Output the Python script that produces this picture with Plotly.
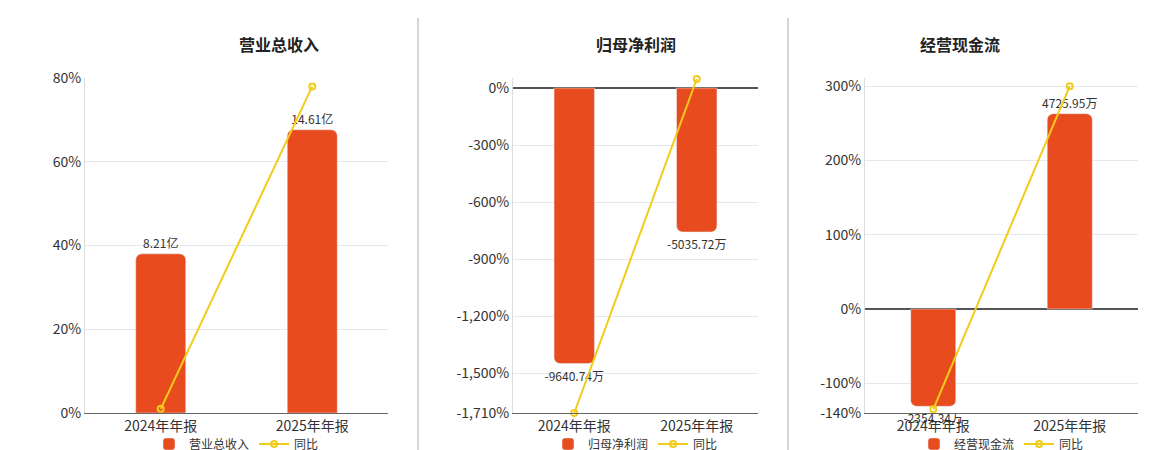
import plotly.graph_objects as go

cats = ["2024年年报", "2025年年报"]
titles = ["营业总收入", "归母净利润", "经营现金流"]
bar_vals = [[8.21, 14.61], [-9640.74, -5035.72], [-2354.34, 4725.95]]
bar_text = [["8.21亿", "14.61亿"], ["-9640.74万", "-5035.72万"], ["-2354.34万", "4725.95万"]]
yoy = [[1.0, 78.0], [-1710.0, 47.8], [-135.0, 300.0]]
pct_ranges = [[0, 80], [-1710, 53], [-140, 311]]
bar_factor = [0.216, 6.65, 17.97]
tickvals = [[0, 20, 40, 60, 80], [0, -300, -600, -900, -1200, -1500, -1710], [-140, -100, 0, 100, 200, 300]]
ticktext = [["0%", "20%", "40%", "60%", "80%"],
            ["0%", "-300%", "-600%", "-900%", "-1,200%", "-1,500%", "-1,710%"],
            ["-140%", "-100%", "0%", "100%", "200%", "300%"]]

W, H = 1160, 450
doms = [[77, 380], [505, 750], [857, 1130]]
ydom = [1 - 405 / H, 1 - 70 / H]
BAR = "#e84c1e"
LINE = "#f2cc1a"

fig = go.Figure()
layout = dict(width=W, height=H, margin=dict(l=0, r=0, t=0, b=0, autoexpand=False),
              plot_bgcolor="white", paper_bgcolor="white",
              font=dict(family="Noto Sans CJK SC, sans-serif", size=13, color="#333"),
              annotations=[], shapes=[])
for i in range(3):
    n = "" if i == 0 else str(i + 1)
    xa, yb, ya = f"x{n}", f"y{n}", f"y{i + 4}"
    lg = "legend" if i == 0 else f"legend{i + 1}"
    fig.add_trace(go.Bar(x=cats, y=bar_vals[i], text=bar_text[i], textposition="outside",
                         constraintext="none", textfont=dict(size=12, color="#333"), cliponaxis=False,
                         marker=dict(color=BAR, cornerradius=6), width=0.33,
                         name=titles[i], xaxis=xa, yaxis=yb, legend=lg))
    fig.add_trace(go.Scatter(x=cats, y=yoy[i], mode="lines+markers", name="同比",
                             line=dict(color=LINE, width=2), cliponaxis=False,
                             marker=dict(symbol="circle-open", size=6, color=LINE, line=dict(width=2)),
                             xaxis=xa, yaxis=ya, legend=lg))
    d = [doms[i][0] / W, doms[i][1] / W]
    f = bar_factor[i]
    layout[f"xaxis{n}"] = dict(domain=d, anchor=yb, showgrid=False, showline=True,
                               linecolor="#666", ticks="", tickfont=dict(size=14))
    layout[f"yaxis{n}"] = dict(domain=ydom, anchor=xa, range=[pct_ranges[i][0] * f, pct_ranges[i][1] * f],
                               showgrid=False, zeroline=False, showticklabels=False, showline=False)
    layout[f"yaxis{i + 4}"] = dict(overlaying=yb, anchor=xa, side="left", range=pct_ranges[i],
                                   tickvals=tickvals[i], ticktext=ticktext[i], gridcolor="#e6e6ef",
                                   zeroline=True, zerolinecolor="#555", zerolinewidth=1.5,
                                   tickfont=dict(size=14), showline=True, linecolor="#ddd")
    cx = (doms[i][0] + doms[i][1]) / 2 / W
    layout["annotations"].append(dict(text=f"<b>{titles[i]}</b>", x=cx, y=1 - 22 / H, xref="paper",
                                      yref="paper", showarrow=False, font=dict(size=16, color="#222")))
    layout[lg] = dict(orientation="h", x=cx, xanchor="center", y=1 - 436 / H, yanchor="middle",
                      font=dict(size=12), bgcolor="rgba(0,0,0,0)")
for xs in [410, 780]:
    layout["shapes"].append(dict(type="line", xref="paper", yref="paper", x0=xs / W, x1=xs / W,
                                 y0=1 - 445 / H, y1=1 - 10 / H, line=dict(color="#aaa", width=1)))
fig.update_layout(**layout)
fig.write_html("out.html")
